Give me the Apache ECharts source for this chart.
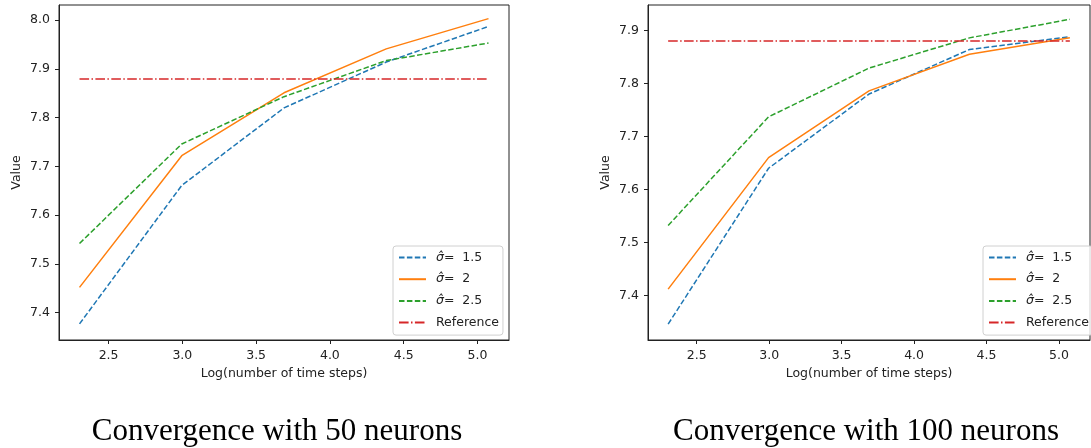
<!DOCTYPE html>
<html>
<head>
<meta charset="utf-8">
<script src="https://cdn.jsdelivr.net/npm/echarts@6/dist/echarts.min.js"></script>
<style>
html,body{margin:0;padding:0;background:#fff;}
#chart{width:1091px;height:448px;}
</style>
</head>
<body>
<div id="chart"></div>
<script>
// ---- data ----
const xSteps = [2.303, 2.996, 3.689, 4.382, 5.075];
const seriesNames = ['σ̂= 1.5', 'σ̂= 2', 'σ̂= 2.5', 'Reference'];

// 50 neurons
const left15  = [7.377, 7.661, 7.820, 7.914, 7.987];
const left2   = [7.452, 7.722, 7.851, 7.941, 8.003];
const left25  = [7.542, 7.746, 7.843, 7.917, 7.953];
const leftRef = [7.879, 7.879, 7.879, 7.879, 7.879];

// 100 neurons
const right15  = [7.346, 7.640, 7.780, 7.864, 7.888];
const right2   = [7.412, 7.660, 7.786, 7.855, 7.886];
const right25  = [7.532, 7.737, 7.829, 7.886, 7.921];
const rightRef = [7.880, 7.880, 7.880, 7.880, 7.880];

const xTicks = [2.5, 3.0, 3.5, 4.0, 4.5, 5.0];
const leftYTicks = [7.4, 7.5, 7.6, 7.7, 7.8, 7.9, 8.0];
const rightYTicks = [7.4, 7.5, 7.6, 7.7, 7.8, 7.9];

const titles = ['Convergence with 50 neurons', 'Convergence with 100 neurons'];
const xName = 'Log(number of time steps)';
const yName = 'Value';

// ---- styling ----
const colors = ['#1f77b4', '#ff7f0e', '#2ca02c', '#d62728'];
const dashes = [[5.5, 2.4], 'solid', [5.5, 2.4], [9.6, 2.4, 1.5, 2.4]];
const sans = 'DejaVu Sans';
const fs = 12.5;

function pairs(ys) { return xSteps.map((x, i) => [x, ys[i]]); }

function makeX(idx) {
  return {
    type: 'value', gridIndex: idx, min: 2.164, max: 5.214,
    name: xName, nameLocation: 'middle', nameGap: 25,
    nameTextStyle: { fontFamily: sans, fontSize: fs, color: '#222' },
    splitLine: { show: false },
    axisLine: { show: true, onZero: false, lineStyle: { color: '#222', width: 1 } },
    axisTick: { show: true, length: 4, customValues: xTicks, lineStyle: { color: '#222' } },
    axisLabel: { customValues: xTicks, margin: 9, fontFamily: sans, fontSize: fs, color: '#222',
      formatter: v => v.toFixed(1) }
  };
}
function makeY(idx, min, max, ticks) {
  return {
    type: 'value', gridIndex: idx, min: min, max: max,
    name: yName, nameLocation: 'middle', nameGap: 36, nameRotate: 90,
    nameTextStyle: { fontFamily: sans, fontSize: fs, color: '#222' },
    splitLine: { show: false },
    axisLine: { show: true, lineStyle: { color: '#222', width: 1 } },
    axisTick: { show: true, length: 4, customValues: ticks, lineStyle: { color: '#222' } },
    axisLabel: { customValues: ticks, margin: 9, fontFamily: sans, fontSize: fs, color: '#222',
      formatter: v => v.toFixed(1) }
  };
}
function makeSeries(idx, lists) {
  return lists.map((ys, k) => ({
    type: 'line', name: seriesNames[k], xAxisIndex: idx, yAxisIndex: idx,
    data: pairs(ys), symbol: 'none', animation: false, silent: true,
    lineStyle: { color: colors[k], width: 1.5, type: dashes[k] },
    itemStyle: { color: colors[k] }
  }));
}
function makeLegend(left) {
  return {
    orient: 'vertical', left: left, top: 246,
    data: seriesNames, selectedMode: false,
    itemWidth: 27, itemHeight: 14, itemGap: 8.7,
    padding: [5, 4, 6, 5],
    backgroundColor: 'rgba(255,255,255,0.8)',
    borderColor: '#d0d0d0', borderWidth: 1, borderRadius: 3,
    itemStyle: { opacity: 0 },
    formatter: function (name) {
      if (name.indexOf('σ̂') === 0) {
        return '{p|}{i|σ̂}{n|' + name.slice(2).replace(' ', '  ') + '}';
      }
      return '{p|}{n|' + name + '}';
    },
    textStyle: {
      fontFamily: sans, fontSize: fs, color: '#222',
      rich: {
        p: { width: 5 },
        i: { fontFamily: sans, fontStyle: 'italic', fontSize: fs, color: '#222' },
        n: { fontFamily: sans, fontSize: fs, color: '#222' }
      }
    }
  };
}

const titleStyle = { fontFamily: 'Liberation Serif', fontWeight: 'normal', fontSize: 31, color: '#000' };

const chart = echarts.init(document.getElementById('chart'), null, { renderer: 'canvas' });
chart.setOption({
  animation: false,
  backgroundColor: '#fff',
  title: [
    { text: titles[0], left: 277, top: 416, textAlign: 'center', padding: 0, textStyle: titleStyle },
    { text: titles[1], left: 866, top: 416, textAlign: 'center', padding: 0, textStyle: titleStyle }
  ],
  grid: [
    { left: 59, top: 5, width: 450, height: 335, show: true, borderColor: '#222', borderWidth: 1, backgroundColor: 'transparent' },
    { left: 648, top: 5, width: 442, height: 335, show: true, borderColor: '#222', borderWidth: 1, backgroundColor: 'transparent' }
  ],
  xAxis: [makeX(0), makeX(1)],
  yAxis: [makeY(0, 7.344, 8.031, leftYTicks), makeY(1, 7.316, 7.948, rightYTicks)],
  legend: [makeLegend(393), makeLegend(983)],
  series: makeSeries(0, [left15, left2, left25, leftRef]).concat(makeSeries(1, [right15, right2, right25, rightRef]))
});
</script>
</body>
</html>
